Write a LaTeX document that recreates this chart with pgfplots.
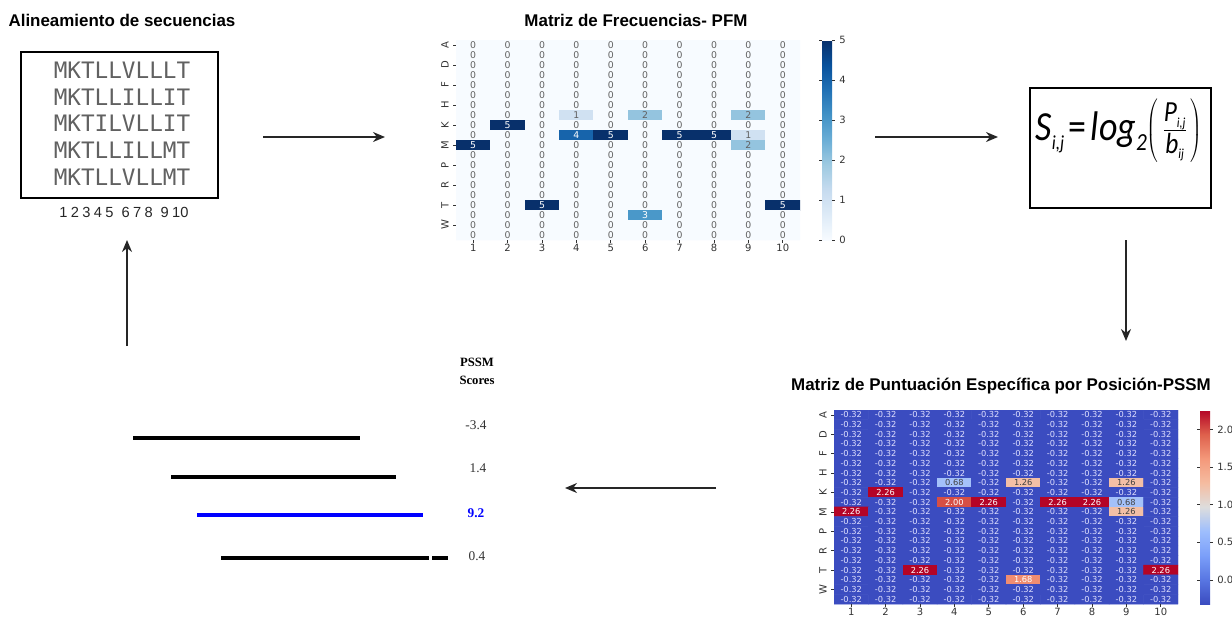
\documentclass[border=0pt]{standalone}
\usepackage{graphicx}
\usepackage{pgfplots}
\pgfplotsset{compat=1.18}
\usepackage{pgfplotstable}
\usepackage{fontspec}
\setmainfont{Liberation Sans}
\newfontfamily\dejavu{DejaVu Sans}
\newfontfamily\dmono{DejaVu Sans Mono}
\newfontfamily\carlito{Carlito}
\newfontfamily\tnr{Liberation Serif}
\usetikzlibrary{arrows.meta}

\pgfplotsset{
  colormap={blues}{rgb255=(247,251,255) rgb255=(222,235,247) rgb255=(198,219,239) rgb255=(158,202,225) rgb255=(107,174,214) rgb255=(66,146,198) rgb255=(33,113,181) rgb255=(8,81,156) rgb255=(8,48,107)},
  colormap={coolwarm}{rgb255=(59,76,192) rgb255=(88,118,226) rgb255=(123,159,249) rgb255=(158,190,253) rgb255=(221,221,221) rgb255=(245,188,160) rgb255=(244,152,122) rgb255=(222,96,76) rgb255=(180,4,38)},
}

% PFM: x = position, y = amino-acid row (A C D E F G H I K L M N P Q R S T V W Y), c = count
\pgfplotstableread[row sep=\\]{
x y c\\
1 0 0\\2 0 0\\3 0 0\\4 0 0\\5 0 0\\6 0 0\\7 0 0\\8 0 0\\9 0 0\\10 0 0\\
1 1 0\\2 1 0\\3 1 0\\4 1 0\\5 1 0\\6 1 0\\7 1 0\\8 1 0\\9 1 0\\10 1 0\\
1 2 0\\2 2 0\\3 2 0\\4 2 0\\5 2 0\\6 2 0\\7 2 0\\8 2 0\\9 2 0\\10 2 0\\
1 3 0\\2 3 0\\3 3 0\\4 3 0\\5 3 0\\6 3 0\\7 3 0\\8 3 0\\9 3 0\\10 3 0\\
1 4 0\\2 4 0\\3 4 0\\4 4 0\\5 4 0\\6 4 0\\7 4 0\\8 4 0\\9 4 0\\10 4 0\\
1 5 0\\2 5 0\\3 5 0\\4 5 0\\5 5 0\\6 5 0\\7 5 0\\8 5 0\\9 5 0\\10 5 0\\
1 6 0\\2 6 0\\3 6 0\\4 6 0\\5 6 0\\6 6 0\\7 6 0\\8 6 0\\9 6 0\\10 6 0\\
1 7 0\\2 7 0\\3 7 0\\4 7 1\\5 7 0\\6 7 2\\7 7 0\\8 7 0\\9 7 2\\10 7 0\\
1 8 0\\2 8 5\\3 8 0\\4 8 0\\5 8 0\\6 8 0\\7 8 0\\8 8 0\\9 8 0\\10 8 0\\
1 9 0\\2 9 0\\3 9 0\\4 9 4\\5 9 5\\6 9 0\\7 9 5\\8 9 5\\9 9 1\\10 9 0\\
1 10 5\\2 10 0\\3 10 0\\4 10 0\\5 10 0\\6 10 0\\7 10 0\\8 10 0\\9 10 2\\10 10 0\\
1 11 0\\2 11 0\\3 11 0\\4 11 0\\5 11 0\\6 11 0\\7 11 0\\8 11 0\\9 11 0\\10 11 0\\
1 12 0\\2 12 0\\3 12 0\\4 12 0\\5 12 0\\6 12 0\\7 12 0\\8 12 0\\9 12 0\\10 12 0\\
1 13 0\\2 13 0\\3 13 0\\4 13 0\\5 13 0\\6 13 0\\7 13 0\\8 13 0\\9 13 0\\10 13 0\\
1 14 0\\2 14 0\\3 14 0\\4 14 0\\5 14 0\\6 14 0\\7 14 0\\8 14 0\\9 14 0\\10 14 0\\
1 15 0\\2 15 0\\3 15 0\\4 15 0\\5 15 0\\6 15 0\\7 15 0\\8 15 0\\9 15 0\\10 15 0\\
1 16 0\\2 16 0\\3 16 5\\4 16 0\\5 16 0\\6 16 0\\7 16 0\\8 16 0\\9 16 0\\10 16 5\\
1 17 0\\2 17 0\\3 17 0\\4 17 0\\5 17 0\\6 17 3\\7 17 0\\8 17 0\\9 17 0\\10 17 0\\
1 18 0\\2 18 0\\3 18 0\\4 18 0\\5 18 0\\6 18 0\\7 18 0\\8 18 0\\9 18 0\\10 18 0\\
1 19 0\\2 19 0\\3 19 0\\4 19 0\\5 19 0\\6 19 0\\7 19 0\\8 19 0\\9 19 0\\10 19 0\\
}\pfm

% PSSM scores
\pgfplotstableread[row sep=\\]{
x y c\\
1 0 -0.32\\2 0 -0.32\\3 0 -0.32\\4 0 -0.32\\5 0 -0.32\\6 0 -0.32\\7 0 -0.32\\8 0 -0.32\\9 0 -0.32\\10 0 -0.32\\
1 1 -0.32\\2 1 -0.32\\3 1 -0.32\\4 1 -0.32\\5 1 -0.32\\6 1 -0.32\\7 1 -0.32\\8 1 -0.32\\9 1 -0.32\\10 1 -0.32\\
1 2 -0.32\\2 2 -0.32\\3 2 -0.32\\4 2 -0.32\\5 2 -0.32\\6 2 -0.32\\7 2 -0.32\\8 2 -0.32\\9 2 -0.32\\10 2 -0.32\\
1 3 -0.32\\2 3 -0.32\\3 3 -0.32\\4 3 -0.32\\5 3 -0.32\\6 3 -0.32\\7 3 -0.32\\8 3 -0.32\\9 3 -0.32\\10 3 -0.32\\
1 4 -0.32\\2 4 -0.32\\3 4 -0.32\\4 4 -0.32\\5 4 -0.32\\6 4 -0.32\\7 4 -0.32\\8 4 -0.32\\9 4 -0.32\\10 4 -0.32\\
1 5 -0.32\\2 5 -0.32\\3 5 -0.32\\4 5 -0.32\\5 5 -0.32\\6 5 -0.32\\7 5 -0.32\\8 5 -0.32\\9 5 -0.32\\10 5 -0.32\\
1 6 -0.32\\2 6 -0.32\\3 6 -0.32\\4 6 -0.32\\5 6 -0.32\\6 6 -0.32\\7 6 -0.32\\8 6 -0.32\\9 6 -0.32\\10 6 -0.32\\
1 7 -0.32\\2 7 -0.32\\3 7 -0.32\\4 7 0.68\\5 7 -0.32\\6 7 1.26\\7 7 -0.32\\8 7 -0.32\\9 7 1.26\\10 7 -0.32\\
1 8 -0.32\\2 8 2.26\\3 8 -0.32\\4 8 -0.32\\5 8 -0.32\\6 8 -0.32\\7 8 -0.32\\8 8 -0.32\\9 8 -0.32\\10 8 -0.32\\
1 9 -0.32\\2 9 -0.32\\3 9 -0.32\\4 9 2.00\\5 9 2.26\\6 9 -0.32\\7 9 2.26\\8 9 2.26\\9 9 0.68\\10 9 -0.32\\
1 10 2.26\\2 10 -0.32\\3 10 -0.32\\4 10 -0.32\\5 10 -0.32\\6 10 -0.32\\7 10 -0.32\\8 10 -0.32\\9 10 1.26\\10 10 -0.32\\
1 11 -0.32\\2 11 -0.32\\3 11 -0.32\\4 11 -0.32\\5 11 -0.32\\6 11 -0.32\\7 11 -0.32\\8 11 -0.32\\9 11 -0.32\\10 11 -0.32\\
1 12 -0.32\\2 12 -0.32\\3 12 -0.32\\4 12 -0.32\\5 12 -0.32\\6 12 -0.32\\7 12 -0.32\\8 12 -0.32\\9 12 -0.32\\10 12 -0.32\\
1 13 -0.32\\2 13 -0.32\\3 13 -0.32\\4 13 -0.32\\5 13 -0.32\\6 13 -0.32\\7 13 -0.32\\8 13 -0.32\\9 13 -0.32\\10 13 -0.32\\
1 14 -0.32\\2 14 -0.32\\3 14 -0.32\\4 14 -0.32\\5 14 -0.32\\6 14 -0.32\\7 14 -0.32\\8 14 -0.32\\9 14 -0.32\\10 14 -0.32\\
1 15 -0.32\\2 15 -0.32\\3 15 -0.32\\4 15 -0.32\\5 15 -0.32\\6 15 -0.32\\7 15 -0.32\\8 15 -0.32\\9 15 -0.32\\10 15 -0.32\\
1 16 -0.32\\2 16 -0.32\\3 16 2.26\\4 16 -0.32\\5 16 -0.32\\6 16 -0.32\\7 16 -0.32\\8 16 -0.32\\9 16 -0.32\\10 16 2.26\\
1 17 -0.32\\2 17 -0.32\\3 17 -0.32\\4 17 -0.32\\5 17 -0.32\\6 17 1.68\\7 17 -0.32\\8 17 -0.32\\9 17 -0.32\\10 17 -0.32\\
1 18 -0.32\\2 18 -0.32\\3 18 -0.32\\4 18 -0.32\\5 18 -0.32\\6 18 -0.32\\7 18 -0.32\\8 18 -0.32\\9 18 -0.32\\10 18 -0.32\\
1 19 -0.32\\2 19 -0.32\\3 19 -0.32\\4 19 -0.32\\5 19 -0.32\\6 19 -0.32\\7 19 -0.32\\8 19 -0.32\\9 19 -0.32\\10 19 -0.32\\
}\pssm

\pgfplotsset{
  heat/.style={
    scale only axis, width=258pt,
    xmin=0.5, xmax=10.5, ymin=-0.5, ymax=19.5, y dir=reverse,
    axis line style={draw=none},
    tick pos=left, tick align=outside,
    major tick length=2pt,
    tick style={black!80, line width=0.5pt},
    xtick={1,...,10},
    ytick={0,2,...,18},
    yticklabels={A,D,F,H,K,M,P,R,T,W},
    yticklabel style={rotate=90, anchor=south},
    ticklabel style={font=\dejavu\fontsize{7.5}{8}\selectfont, text=black!80},
    xticklabel style={inner sep=0.8pt},
    /pgf/number format/assume math mode=true,
    colorbar,
    colorbar shift/.style={xshift=16.5pt},
  },
  cbar/.style={
    at={(parent axis.north east)}, anchor=north west,
    width=7.5pt,
    axis line style={draw=none},
    tick align=outside,
    tick style={black!80, line width=0.5pt},
    major tick length=2pt,
    yticklabel style={font=\dejavu\fontsize{7.5}{8}\selectfont, text=black!80},
    /pgf/number format/assume math mode=true,
  },
  cells/.style={only marks, mark=*, mark size=0pt, mark options={draw=none, fill=none},
    point meta=explicit, nodes near coords align=center,
    every node near coord/.append style={anchor=center, inner sep=0pt}},
}

\begin{document}
\begin{tikzpicture}
\path[use as bounding box] (0pt,0pt) rectangle (924pt,-464.25pt);
\begin{scope}[x=0.75pt,y=-0.75pt]
  % titles
  \node[font=\bfseries\fontsize{12.7}{15}\selectfont] at (122,20) {Alineamiento de secuencias};
  \node[font=\bfseries\fontsize{12.7}{15}\selectfont] at (636,20) {Matriz de Frecuencias- PFM};
  \node[font=\bfseries\fontsize{12.7}{15}\selectfont] at (1001,386) {Matriz de Puntuación Específica por Posición-PSSM};
  % alignment box
  \draw[line width=1.4pt] (21,52) rectangle (218,198);
  \foreach \s/\yy in {MKTLLVLLLT/70, MKTLLILLIT/97, MKTILVLLIT/123, MKTLLILLMT/150, MKTLLVLLMT/177}
    \node[font=\dmono\fontsize{17}{17}\selectfont, text=black!62, inner sep=0pt] at (122,\yy) {\s};
  \node[font=\fontsize{11}{11}\selectfont, text=black!85] at (124,212) {1\hspace{2.5pt}2\hspace{2.5pt}3\hspace{2.5pt}4\hspace{2.5pt}5\hspace{6pt}6\hspace{2.5pt}7\hspace{2.5pt}8\hspace{6pt}9\hspace{2.5pt}10};
  % formula box
  \draw[line width=1.1pt] (1030,88) rectangle (1211,208);
  \node[inner sep=0pt] at (1119,131) {\scalebox{1}[1.15]{\carlito\fontsize{27}{30}\selectfont\textit{S}\raisebox{-0.45ex}{\fontsize{13}{13}\selectfont\textit{i,j}}\hspace{3.5pt}=\hspace{3pt}\textit{log}\raisebox{-0.5ex}{\fontsize{16}{16}\selectfont\textit{2}}$\left(\mkern2mu\rule[-16pt]{0pt}{44pt}\frac{\mbox{\carlito\fontsize{19}{19}\selectfont\textit{P}\raisebox{-0.4ex}{\fontsize{9}{9}\selectfont\textit{i,j}}}}{\mbox{\carlito\fontsize{19}{19}\selectfont\textit{b}\raisebox{-0.4ex}{\fontsize{9}{9}\selectfont\textit{ij}}}}\mkern2mu\right)$}};
  % arrows
  \tikzset{flow/.style={line width=1.3pt, black!85, -{Stealth[length=9pt,width=7.5pt]}}}
  \draw[flow] (263,137) -- (385,137);
  \draw[flow] (875,137) -- (998,137);
  \draw[flow] (1126,240) -- (1126,341);
  \draw[flow] (716,488) -- (565,488);
  \draw[flow] (127,346) -- (127,240);
  % PSSM scores text
  \node[font=\tnr\bfseries\fontsize{9.5}{11}\selectfont] at (477,362) {PSSM};
  \node[font=\tnr\bfseries\fontsize{9.5}{11}\selectfont] at (477,380) {Scores};
  \node[font=\tnr\fontsize{10}{11}\selectfont, text=black!80] at (476,425) {-3.4};
  \node[font=\tnr\fontsize{10}{11}\selectfont, text=black!80] at (478,468) {1.4};
  \node[font=\tnr\bfseries\fontsize{10}{11}\selectfont, text=blue] at (476,513) {9.2};
  \node[font=\tnr\fontsize{10}{11}\selectfont, text=black!80] at (477,556) {0.4};
\end{scope}

% score lines (sequence windows), in pixel coordinates
\begin{axis}[at={(0pt,0pt)}, anchor=north west, scale only axis,
  width=924pt, height=464.25pt, xmin=0, xmax=1232, ymin=0, ymax=619,
  y dir=reverse, hide axis, clip=false]
\addplot[black, line width=3pt, mark=none] coordinates {(133,438) (360,438)};
\addplot[black, line width=3pt, mark=none] coordinates {(171,477) (396,477)};
\addplot[blue, line width=3pt, mark=none] coordinates {(197,515) (423,515)};
\addplot[black, line width=3pt, mark=none] coordinates {(221,558) (429,558)};
\addplot[black, line width=3pt, mark=none] coordinates {(432,558) (448,558)};
\end{axis}

% PFM heatmap
\begin{axis}[heat, at={(342pt,-180pt)}, anchor=south west, height=150pt,
  colormap name=blues, point meta min=0, point meta max=5,
  colorbar style={cbar, ytick={0,...,5}}]
\addplot[matrix plot, mesh/cols=10, point meta=explicit] table[x=x, y=y, meta=c] {\pfm};
\addplot[cells, restrict expr to domain={\thisrow{c}}{-1:2.5},
  nodes near coords={\pgfmathprintnumber[fixed,precision=0]{\pgfplotspointmeta}},
  every node near coord/.append style={text=black!62, font=\dejavu\fontsize{7}{7}\selectfont}]
  table[x=x, y=y, meta=c] {\pfm};
\addplot[cells, restrict expr to domain={\thisrow{c}}{2.5:10},
  nodes near coords={\pgfmathprintnumber[fixed,precision=0]{\pgfplotspointmeta}},
  every node near coord/.append style={text=white, font=\dejavu\fontsize{7}{7}\selectfont}]
  table[x=x, y=y, meta=c] {\pfm};
\end{axis}

% PSSM heatmap
\begin{axis}[heat, at={(625.5pt,-453pt)}, anchor=south west, height=145.5pt,
  colormap name=coolwarm, point meta min=-0.32, point meta max=2.26,
  colorbar style={cbar, ytick={0,0.5,1,1.5,2},
    yticklabel style={/pgf/number format/.cd, fixed, fixed zerofill, precision=1}}]
\addplot[matrix plot, mesh/cols=10, point meta=explicit] table[x=x, y=y, meta=c] {\pssm};
\addplot[cells, restrict expr to domain={\thisrow{c}}{-1:0},
  nodes near coords={\pgfmathprintnumber[fixed,fixed zerofill,precision=2]{\pgfplotspointmeta}},
  every node near coord/.append style={text=white!88!blue, font=\dejavu\fontsize{6.2}{6.2}\selectfont}]
  table[x=x, y=y, meta=c] {\pssm};
\addplot[cells, restrict expr to domain={\thisrow{c}}{0:1.5},
  nodes near coords={\pgfmathprintnumber[fixed,fixed zerofill,precision=2]{\pgfplotspointmeta}},
  every node near coord/.append style={text=black!75, font=\dejavu\fontsize{6.2}{6.2}\selectfont}]
  table[x=x, y=y, meta=c] {\pssm};
\addplot[cells, restrict expr to domain={\thisrow{c}}{1.5:10},
  nodes near coords={\pgfmathprintnumber[fixed,fixed zerofill,precision=2]{\pgfplotspointmeta}},
  every node near coord/.append style={text=white, font=\dejavu\fontsize{6.2}{6.2}\selectfont}]
  table[x=x, y=y, meta=c] {\pssm};
\end{axis}
\end{tikzpicture}
\end{document}
